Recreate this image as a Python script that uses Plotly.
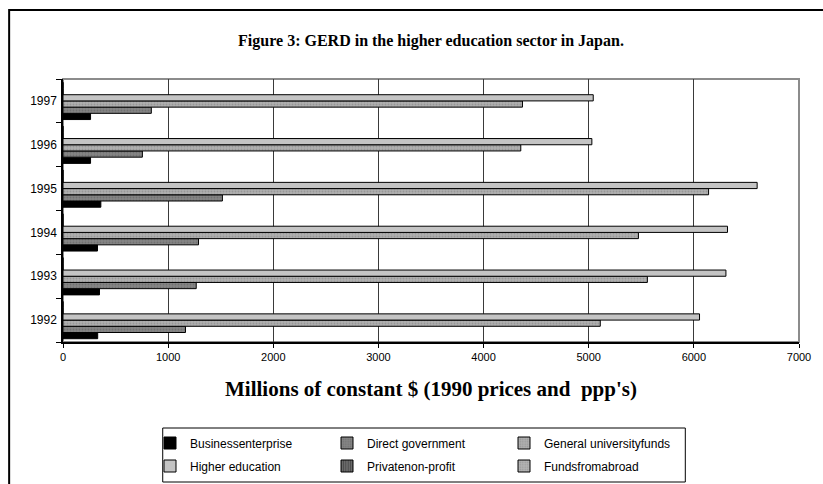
import plotly.graph_objects as go

years = ["1992", "1993", "1994", "1995", "1996", "1997"]
business_enterprise = [330, 347, 328, 360, 262, 262]
direct_government = [1165, 1267, 1289, 1516, 755, 840]
general_university_funds = [5110, 5558, 5473, 6140, 4354, 4370]
higher_education = [6054, 6305, 6320, 6602, 5030, 5043]
private_non_profit = [0, 0, 0, 0, 0, 0]
funds_from_abroad = [0, 0, 0, 0, 0, 0]

series_names = ["Businessenterprise", "Direct government", "General universityfunds",
                "Higher education", "Privatenon-profit", "Fundsfromabroad"]
series_values = [business_enterprise, direct_government, general_university_funds,
                 higher_education, private_non_profit, funds_from_abroad]
fills = ["#000000", "#858585", "#b0b0b0", "#c4c4c4", "#6a6a6a", "#b4b4b4"]
patterns = ["", ".", ".", "", "|", "."]
pattern_fg = ["#000000", "#5e5e5e", "#7e7e7e", "#000000", "#222222", "#808080"]
legend_ids = ["legend", "legend", "legend", "legend2", "legend2", "legend2"]

W, H = 823, 484
ML, MR, MT, MB = 63, 22, 79, 142
PW, PH = W - ML - MR, H - MT - MB

def px_x(p):
    return (p - ML) / PW

def px_y(p):
    return (H - MB - p) / PH

fig = go.Figure()
for name, vals, fc, pat, pfg, lg in zip(series_names, series_values, fills, patterns, pattern_fg, legend_ids):
    fig.add_trace(go.Bar(
        y=years, x=vals, name=name, orientation="h",
        marker=dict(color=fc, line=dict(color="#000000", width=1),
                    pattern=dict(shape=pat, fgcolor=pfg, bgcolor=fc, size=3, solidity=0.3)),
        legend=lg,
    ))

fig.update_layout(
    width=W, height=H,
    margin=dict(l=ML, r=MR, t=MT, b=MB),
    paper_bgcolor="white", plot_bgcolor="white",
    barmode="group", bargap=0.15, bargroupgap=0,
    font=dict(family="Liberation Sans, Arial, sans-serif", color="#000000"),
    title=dict(text="<b>Figure 3: GERD in the higher education sector in Japan.</b>",
               font=dict(family="Liberation Serif, Times New Roman, serif", size=16),
               x=0.5, xref="paper", xanchor="center", y=1 - 40 / H, yref="container", yanchor="middle"),
    xaxis=dict(range=[0, 7000], dtick=1000, tick0=0, showgrid=True, gridcolor="#3a3a3a", gridwidth=1,
               showline=True, linecolor="#000000", linewidth=1.5, ticks="outside", ticklen=4,
               tickcolor="#000000", tickfont=dict(size=11), zeroline=False,
               title=dict(text="<b>Millions of constant $ (1990 prices and  ppp's)</b>",
                          font=dict(family="Liberation Serif, Times New Roman, serif", size=21),
                          standoff=19)),
    yaxis=dict(type="category", categoryorder="array", categoryarray=years,
               range=[-0.5, 5.5], tickson="boundaries", ticks="outside", ticklen=5,
               tickcolor="#000000", showline=True, linecolor="#000000", linewidth=1.5,
               showgrid=False, tickfont=dict(size=12), ticklabelstandoff=2),
    legend=dict(orientation="h", xref="container", yref="container",
                x=150 / W, xanchor="left", y=1 - 443 / H, yanchor="middle",
                entrywidth=132, entrywidthmode="pixels", font=dict(size=12),
                bgcolor="rgba(0,0,0,0)", borderwidth=0, traceorder="normal", itemclick=False),
    legend2=dict(orientation="h", xref="container", yref="container",
                 x=150 / W, xanchor="left", y=1 - 466 / H, yanchor="middle",
                 entrywidth=132, entrywidthmode="pixels", font=dict(size=12),
                 bgcolor="rgba(0,0,0,0)", borderwidth=0, traceorder="normal", itemclick=False),
    shapes=[
        dict(type="rect", xref="paper", yref="paper", x0=0, x1=1, y0=0, y1=1,
             line=dict(color="#8c8c8c", width=2), layer="below"),
        dict(type="rect", xref="paper", yref="paper", x0=px_x(163), x1=px_x(687),
             y0=px_y(482), y1=px_y(428), line=dict(color="#000000", width=1)),
        dict(type="rect", xref="paper", yref="paper", x0=px_x(9), x1=px_x(840),
             y0=px_y(510), y1=px_y(10), line=dict(color="#000000", width=2)),
    ],
)

fig.write_html("out.html")
